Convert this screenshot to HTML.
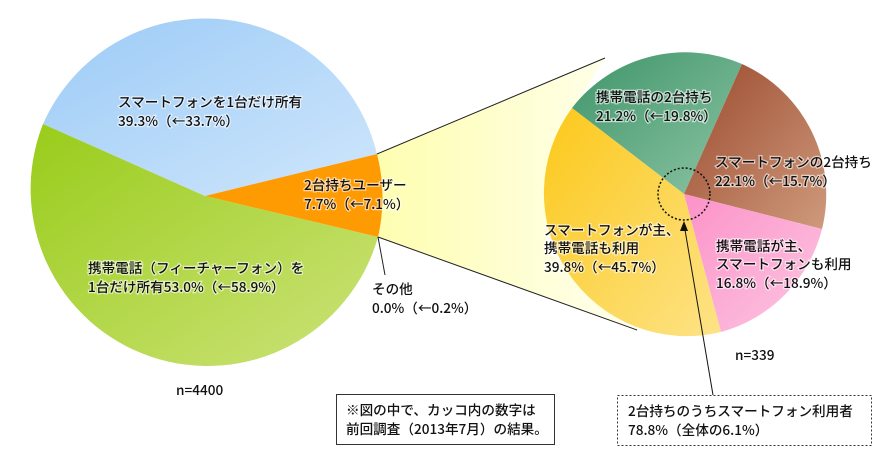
<!DOCTYPE html>
<html><head><meta charset="utf-8"><style>
body{margin:0;background:#fff;}
svg text{font-family:"Noto Sans CJK JP","Liberation Sans",sans-serif;font-size:13.6px;fill:#111;font-weight:500;}
.h{stroke:#fff;stroke-width:2.5px;paint-order:stroke;stroke-opacity:0.6;}
</style></head><body>
<svg width="890" height="470" viewBox="0 0 890 470" xmlns="http://www.w3.org/2000/svg">
<defs>
<linearGradient id="gb" x1="0" y1="0" x2="1" y2="1"><stop offset="0" stop-color="#9ccbf6"/><stop offset="1" stop-color="#cfe6fc"/></linearGradient>
<linearGradient id="gg" x1="0" y1="0" x2="1" y2="1"><stop offset="0" stop-color="#99cc1a"/><stop offset="1" stop-color="#cde37a"/></linearGradient>
<linearGradient id="gy" x1="0" y1="0" x2="1" y2="1"><stop offset="0" stop-color="#fcc81a"/><stop offset="1" stop-color="#fde387"/></linearGradient>
<linearGradient id="ggr" x1="0" y1="0" x2="1" y2="1"><stop offset="0" stop-color="#3f956a"/><stop offset="1" stop-color="#8cc4a4"/></linearGradient>
<linearGradient id="gbr" x1="0" y1="0" x2="1" y2="1"><stop offset="0" stop-color="#9b4a2e"/><stop offset="1" stop-color="#cf9a7c"/></linearGradient>
<linearGradient id="gp" x1="0" y1="0" x2="1" y2="1"><stop offset="0" stop-color="#fc92c8"/><stop offset="1" stop-color="#fdc6e2"/></linearGradient>
<linearGradient id="fun" x1="0" y1="0" x2="1" y2="0"><stop offset="0" stop-color="#fefeb0"/><stop offset="1" stop-color="#fffff0"/></linearGradient>
</defs>
<polygon points="377,154 605,58 560,130 545,250 637,330 378,237" fill="url(#fun)"/>
<path d="M205,196 L43,124 A177,177 0 0 1 377,154 Z" fill="url(#gb)"/>
<path d="M205,196 L377,154 A177,177 0 0 1 378,237 Z" fill="#fe9a02"/>
<path d="M205,196 L378,237 A177,177 0 1 1 43,124 Z" fill="url(#gg)"/>
<path d="M684,194 L572,108 A143,143 0 0 1 742,64 Z" fill="url(#ggr)"/>
<path d="M684,194 L742,64 A143,143 0 0 1 822,229 Z" fill="url(#gbr)"/>
<path d="M684,194 L822,229 A143,143 0 0 1 721,332 Z" fill="url(#gp)"/>
<path d="M684,194 L721,332 A143,143 0 0 1 572,108 Z" fill="url(#gy)"/>
<line x1="377" y1="154" x2="605" y2="58" stroke="#222" stroke-width="1"/>
<line x1="378" y1="237" x2="637" y2="330" stroke="#222" stroke-width="1"/>
<line x1="378" y1="237" x2="385" y2="275" stroke="#222" stroke-width="1"/>
<circle cx="684" cy="194" r="26" fill="none" stroke="#111" stroke-width="1.5" stroke-dasharray="2,2"/>
<line x1="713" y1="395" x2="684" y2="224" stroke="#111" stroke-width="1"/>
<polygon points="684,221 680,231 688,231" fill="#111"/>
<g class="h">
<text x="118" y="107">スマートフォンを1台だけ所有</text>
<text x="118" y="126">39.3%（←33.7%）</text>
<text x="304" y="190">2台持ちユーザー</text>
<text x="304" y="209">7.7%（←7.1%）</text>
<text x="88" y="273">携帯電話（フィーチャーフォン）を</text>
<text x="88" y="292">1台だけ所有53.0%（←58.9%）</text>
<text x="596" y="102">携帯電話の2台持ち</text>
<text x="596" y="121">21.2%（←19.8%）</text>
<text x="715" y="167">スマートフォンの2台持ち</text>
<text x="715" y="186">22.1%（←15.7%）</text>
<text x="544" y="235">スマートフォンが主、</text>
<text x="544" y="253">携帯電話も利用</text>
<text x="544" y="272">39.8%（←45.7%）</text>
<text x="716" y="251">携帯電話が主、</text>
<text x="716" y="269">スマートフォンも利用</text>
<text x="716" y="288">16.8%（←18.9%）</text>
</g>
<text x="372" y="294">その他</text>
<text x="372" y="313">0.0%（←0.2%）</text>
<text x="176" y="395">n=4400</text>
<text x="735" y="360">n=339</text>
<rect x="336.5" y="394.5" width="218" height="50" fill="#fff" stroke="#333"/>
<text x="346" y="415">※図の中で、カッコ内の数字は</text>
<text x="346" y="434">前回調査（2013年7月）の結果。</text>
<rect x="617.5" y="395.5" width="254" height="50" fill="#fff" stroke="#333" stroke-dasharray="2,2"/>
<text x="628" y="416">2台持ちのうちスマートフォン利用者</text>
<text x="628" y="435">78.8%（全体の6.1%）</text>
</svg>
</body></html>
